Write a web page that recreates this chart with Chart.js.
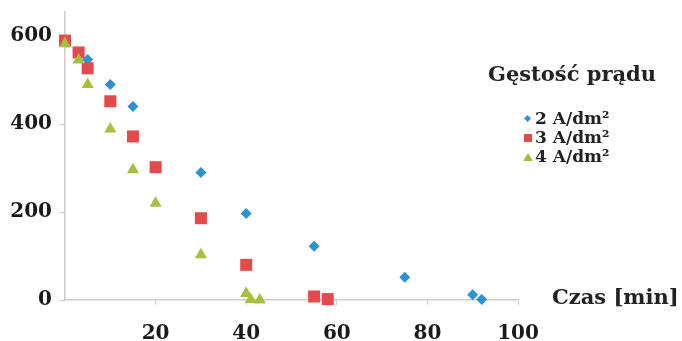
<!DOCTYPE html>
<html>
<head>
<meta charset="utf-8">
<script src="https://cdn.jsdelivr.net/npm/chart.js"></script>
<style>
  body { margin: 0; background: #fff; }
  #wrap { position: relative; width: 682px; height: 341px; }
  #legend { position: absolute; left: 488px; top: 61px; font-family: "DejaVu Serif", serif; font-weight: bold; color: #222; }
  #legend .title { font-size: 21px; white-space: nowrap; }
  #legend ul { list-style: none; margin: 23px 0 0 34px; padding: 0; font-size: 17px; }
  #legend li { height: 19px; line-height: 19px; white-space: nowrap; }
  #legend .mk { display: inline-block; width: 12px; height: 10px; position: relative; margin-right: 1px; }
</style>
</head>
<body>
<div id="wrap">
  <canvas id="chart" width="682" height="341"></canvas>
  <div id="legend"></div>
</div>
<script>
// --- Data ---
const legendTitle = 'Gęstość prądu';
const axisTitleX = 'Czas [min]';
const seriesLabels = ['2 A/dm²', '3 A/dm²', '4 A/dm²'];
const seriesColors = ['#2E91D4', '#E14B4C', '#A6BF3E'];
const seriesShapes = ['rectRot', 'rect', 'triangle'];

const time2 = [0, 5, 10, 15, 30, 40, 55, 75, 90, 92];
const conc2 = [590, 547, 490, 440, 290, 197, 122, 52, 12, 1];

const time3 = [0, 3, 5, 10, 15, 20, 30, 40, 55, 58];
const conc3 = [590, 563, 527, 452, 372, 302, 186, 80, 8, 2];

const time4 = [0, 3, 5, 10, 15, 20, 30, 40, 41, 43];
const conc4 = [583, 546, 490, 389, 296, 220, 103, 15, 1, 0];

const xTicks = [0, 20, 40, 60, 80, 100];
const yTicks = [0, 100, 200, 300, 400, 500, 600];
const yLabelled = [0, 200, 400, 600];

const toPoints = (xs, ys) => xs.map((x, i) => ({ x, y: ys[i] }));
const radii = [5.5, 8.5, 7];
const axisColor = '#D3CACA';
const font = { family: '"DejaVu Serif", serif', weight: 'bold', size: 20 };

// "Czas [min]" sits to the right of the x axis line
const axisTitlePlugin = {
    id: 'axisTitleRight',
    afterDraw(chart) {
        const { ctx, chartArea } = chart;
        ctx.save();
        ctx.font = 'bold 21px "DejaVu Serif", serif';
        ctx.fillStyle = '#222';
        ctx.textAlign = 'left';
        ctx.textBaseline = 'middle';
        ctx.fillText(axisTitleX, chartArea.right + 34, chartArea.bottom - 1);
        ctx.restore();
    }
};

const datasets = [
    { label: seriesLabels[0], data: toPoints(time2, conc2), order: 2 },
    { label: seriesLabels[1], data: toPoints(time3, conc3), order: 1 },
    { label: seriesLabels[2], data: toPoints(time4, conc4), order: 0 }
].map((ds, i) => Object.assign(ds, {
    pointStyle: seriesShapes[i],
    pointRadius: radii[i],
    pointHoverRadius: radii[i],
    backgroundColor: seriesColors[i],
    borderColor: seriesColors[i],
    borderWidth: 0,
    showLine: false,
    clip: false
}));

new Chart(document.getElementById('chart'), {
    type: 'scatter',
    data: { datasets },
    plugins: [axisTitlePlugin],
    options: {
        responsive: false,
        animation: false,
        layout: { padding: { top: 12, right: 164, left: 0, bottom: 0 } },
        plugins: { legend: { display: false }, tooltip: { enabled: false } },
        scales: {
            x: {
                type: 'linear', min: 0, max: 100,
                afterBuildTicks: s => { s.ticks = xTicks.map(v => ({ value: v })); },
                afterFit: s => { s.height = 41; s.paddingLeft = 0; s.paddingRight = 0; },
                border: { display: true, color: axisColor, width: 1.5 },
                grid: { display: true, drawOnChartArea: false, drawTicks: true, tickLength: 5, color: axisColor },
                ticks: {
                    font, color: '#1a1a1a', padding: 17, maxRotation: 0, autoSkip: false,
                    callback: v => (v === 0 ? null : String(v))
                }
            },
            y: {
                type: 'linear', min: 0, max: 655,
                afterBuildTicks: s => { s.ticks = yTicks.map(v => ({ value: v })); },
                afterFit: s => { s.width = 65; s.paddingTop = 0; s.paddingBottom = 0; },
                border: { display: true, color: axisColor, width: 1.5 },
                grid: { display: true, drawOnChartArea: false, drawTicks: true, tickLength: 5, color: axisColor },
                ticks: {
                    font, color: '#1a1a1a', padding: 8, autoSkip: false,
                    callback: v => (yLabelled.includes(v) ? String(v) : null)
                }
            }
        }
    }
});

// --- HTML legend built from the series arrays ---
function markerHTML(shape, color) {
    if (shape === 'rectRot') {
        return `<span class="mk"><span style="position:absolute;left:3px;top:2px;width:5px;height:5px;background:${color};transform:rotate(45deg)"></span></span>`;
    }
    if (shape === 'rect') {
        return `<span class="mk"><span style="position:absolute;left:2px;top:1px;width:8px;height:8px;background:${color}"></span></span>`;
    }
    return `<span class="mk"><span style="position:absolute;left:1px;top:1px;width:0;height:0;border-left:5px solid transparent;border-right:5px solid transparent;border-bottom:8px solid ${color}"></span></span>`;
}

const legendEl = document.getElementById('legend');
legendEl.innerHTML = `<div class="title">${legendTitle}</div><ul>` +
    seriesLabels.map((lbl, i) => `<li>${markerHTML(seriesShapes[i], seriesColors[i])}${lbl}</li>`).join('') +
    '</ul>';
</script>
</body>
</html>
